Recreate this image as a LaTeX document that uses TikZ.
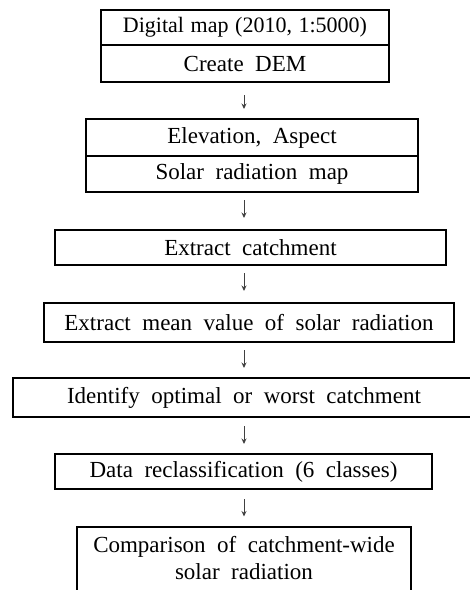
\documentclass[tikz,border=0pt]{standalone}
\usepackage{fontspec}
\setmainfont{Liberation Serif}
\usetikzlibrary{arrows.meta}
\newcommand{\myboxfont}{\fontsize{23}{27}\selectfont\spaceskip=0.5em\relax}
\newcommand{\mytightfont}{\fontsize{22}{27}\selectfont\spaceskip=0.3em\relax}
\begin{document}
\begin{tikzpicture}[x=1pt,y=-1pt,
  box/.style={draw, line width=2pt, inner sep=0pt, align=center, font=\myboxfont},
  flow/.style={draw=black!75, line width=0.9pt, -{Stealth[length=5.5pt,width=5pt]}}]
\useasboundingbox (0,0) rectangle (470,590);
\clip (0,0) rectangle (470,590);
\coordinate (ax) at (244,0);
% box 1
\node[box, font=\mytightfont, minimum width=288pt, minimum height=35pt] (b1a) at (245,27.5) {Digital map (2010, 1:5000)};
\node[box, minimum width=288pt, minimum height=37pt] (b1b) at (245,63.5) {Create DEM};
% box 2
\node[box, minimum width=332pt, minimum height=37pt] (b2a) at (252,137.5) {Elevation, Aspect};
\node[box, minimum width=332pt, minimum height=36pt] (b2b) at (252,174) {Solar radiation map};
% box 3
\node[box, minimum width=391pt, minimum height=35pt] (b3) at (250.5,247.5) {Extract catchment};
% box 4
\node[box, minimum width=410pt, minimum height=39pt] (b4) at (249,322.5) {Extract mean value of solar radiation};
% box 5
\node[box, minimum width=462pt, minimum height=39pt] (b5) at (244,397.5) {Identify optimal or worst catchment};
% box 6
\node[box, minimum width=377pt, minimum height=35pt] (b6) at (243.5,471.5) {Data reclassification (6 classes)};
% box 7
\node[box, minimum width=334pt, minimum height=64pt] (b7) at (244,558.5) {Comparison of catchment-wide\\solar radiation};
% arrows
\draw[flow, shorten <=12pt, shorten >=9pt] (b1b.south -| ax) -- (b2a.north -| ax);
\draw[flow, shorten <=7pt, shorten >=11pt] (b2b.south -| ax) -- (b3.north -| ax);
\draw[flow, shorten <=7pt, shorten >=11pt] (b3.south -| ax) -- (b4.north -| ax);
\draw[flow, shorten <=7pt, shorten >=9pt] (b4.south -| ax) -- (b5.north -| ax);
\draw[flow, shorten <=8pt, shorten >=9pt] (b5.south -| ax) -- (b6.north -| ax);
\draw[flow, shorten <=9pt, shorten >=9pt] (b6.south -| ax) -- (b7.north -| ax);
\end{tikzpicture}
\end{document}
